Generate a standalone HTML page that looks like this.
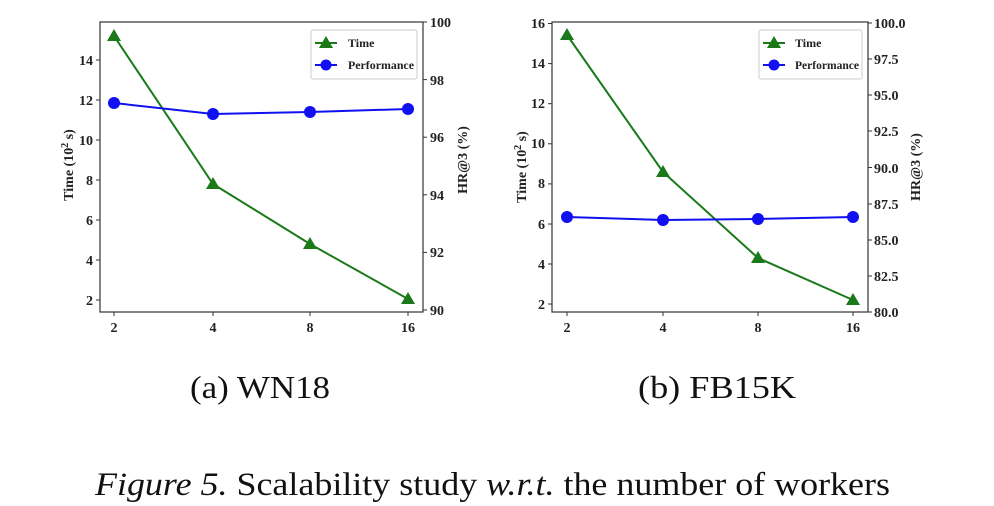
<!DOCTYPE html>
<html><head><meta charset="utf-8"><style>
body{margin:0;background:#fff;}
svg{display:block;font-family:"Liberation Serif",serif;}
.t{font-size:14px;font-weight:bold;fill:#222;}
.l{font-size:14px;font-weight:bold;fill:#222;}
.lg{font-size:12px;font-weight:bold;fill:#222;}
</style></head><body>
<svg width="994" height="506" viewBox="0 0 994 506" xmlns="http://www.w3.org/2000/svg">
<!-- Chart A -->
<g>
<rect x="100" y="22" width="323" height="290" fill="none" stroke="#333" stroke-width="1.2"/>
<g stroke="#333" stroke-width="1">
<line x1="114" y1="312" x2="114" y2="316"/><line x1="213" y1="312" x2="213" y2="316"/><line x1="310" y1="312" x2="310" y2="316"/><line x1="408" y1="312" x2="408" y2="316"/>
<line x1="96" y1="60" x2="100" y2="60"/><line x1="96" y1="100" x2="100" y2="100"/><line x1="96" y1="140" x2="100" y2="140"/><line x1="96" y1="180" x2="100" y2="180"/><line x1="96" y1="220" x2="100" y2="220"/><line x1="96" y1="260" x2="100" y2="260"/><line x1="96" y1="300" x2="100" y2="300"/>
<line x1="423" y1="22" x2="427" y2="22"/><line x1="423" y1="79.6" x2="427" y2="79.6"/><line x1="423" y1="137.2" x2="427" y2="137.2"/><line x1="423" y1="194.8" x2="427" y2="194.8"/><line x1="423" y1="252.4" x2="427" y2="252.4"/><line x1="423" y1="310" x2="427" y2="310"/>
</g>
<g class="t" text-anchor="middle"><text x="114" y="332">2</text><text x="213" y="332">4</text><text x="310" y="332">8</text><text x="408" y="332">16</text></g>
<g class="t" text-anchor="end"><text x="93" y="65">14</text><text x="93" y="105">12</text><text x="93" y="145">10</text><text x="93" y="185">8</text><text x="93" y="225">6</text><text x="93" y="265">4</text><text x="93" y="305">2</text></g>
<g class="t" text-anchor="start"><text x="430" y="27">100</text><text x="430" y="85">98</text><text x="430" y="142">96</text><text x="430" y="200">94</text><text x="430" y="257">92</text><text x="430" y="315">90</text></g>
<text class="l" transform="translate(73,165) rotate(-90)" text-anchor="middle">Time (10<tspan dy="-5" font-size="10">2</tspan><tspan dy="5"> s)</tspan></text>
<text class="l" transform="translate(467,160) rotate(-90)" text-anchor="middle">HR@3 (%)</text>
<polyline points="114,36 213,184 310,244 408,299" fill="none" stroke="#1a7a1a" stroke-width="2"/>
<g fill="#1a7a1a"><polygon points="114,29 107,41 121,41"/><polygon points="213,177 206,189 220,189"/><polygon points="310,237 303,249 317,249"/><polygon points="408,292 401,304 415,304"/></g>
<polyline points="114,103 213,114 310,112 408,109" fill="none" stroke="#1010f0" stroke-width="2"/>
<g fill="#1010f0"><circle cx="114" cy="103" r="6"/><circle cx="213" cy="114" r="6"/><circle cx="310" cy="112" r="6"/><circle cx="408" cy="109" r="6"/></g>
<rect x="311" y="30" width="106" height="49" fill="#fff" stroke="#ccc" rx="2"/>
<line x1="315" y1="43" x2="337" y2="43" stroke="#1a7a1a" stroke-width="2"/><polygon points="326,36 319,48 333,48" fill="#1a7a1a"/>
<text class="lg" x="348" y="47">Time</text>
<line x1="315" y1="65" x2="337" y2="65" stroke="#1010f0" stroke-width="2"/><circle cx="326" cy="65" r="5.5" fill="#1010f0"/>
<text class="lg" x="348" y="69" textLength="66" lengthAdjust="spacingAndGlyphs">Performance</text>
</g>
<!-- Chart B -->
<g>
<rect x="552" y="22" width="316" height="290" fill="none" stroke="#333" stroke-width="1.2"/>
<g stroke="#333" stroke-width="1">
<line x1="567" y1="312" x2="567" y2="316"/><line x1="663" y1="312" x2="663" y2="316"/><line x1="758" y1="312" x2="758" y2="316"/><line x1="853" y1="312" x2="853" y2="316"/>
<line x1="548" y1="23.5" x2="552" y2="23.5"/><line x1="548" y1="63.6" x2="552" y2="63.6"/><line x1="548" y1="103.7" x2="552" y2="103.7"/><line x1="548" y1="143.8" x2="552" y2="143.8"/><line x1="548" y1="183.9" x2="552" y2="183.9"/><line x1="548" y1="224" x2="552" y2="224"/><line x1="548" y1="264" x2="552" y2="264"/><line x1="548" y1="304" x2="552" y2="304"/>
<line x1="868" y1="23" x2="872" y2="23"/><line x1="868" y1="59" x2="872" y2="59"/><line x1="868" y1="95" x2="872" y2="95"/><line x1="868" y1="131" x2="872" y2="131"/><line x1="868" y1="167.5" x2="872" y2="167.5"/><line x1="868" y1="204" x2="872" y2="204"/><line x1="868" y1="240" x2="872" y2="240"/><line x1="868" y1="276" x2="872" y2="276"/><line x1="868" y1="312" x2="872" y2="312"/>
</g>
<g class="t" text-anchor="middle"><text x="567" y="332">2</text><text x="663" y="332">4</text><text x="758" y="332">8</text><text x="853" y="332">16</text></g>
<g class="t" text-anchor="end"><text x="545" y="28">16</text><text x="545" y="68">14</text><text x="545" y="108">12</text><text x="545" y="148">10</text><text x="545" y="188">8</text><text x="545" y="229">6</text><text x="545" y="269">4</text><text x="545" y="309">2</text></g>
<g class="t" text-anchor="start"><text x="874" y="28">100.0</text><text x="874" y="64">97.5</text><text x="874" y="100">95.0</text><text x="874" y="136">92.5</text><text x="874" y="173">90.0</text><text x="874" y="209">87.5</text><text x="874" y="245">85.0</text><text x="874" y="281">82.5</text><text x="874" y="317">80.0</text></g>
<text class="l" transform="translate(526,167) rotate(-90)" text-anchor="middle">Time (10<tspan dy="-5" font-size="10">2</tspan><tspan dy="5"> s)</tspan></text>
<text class="l" transform="translate(920,167) rotate(-90)" text-anchor="middle">HR@3 (%)</text>
<polyline points="567,35 663,172 758,258 853,300" fill="none" stroke="#1a7a1a" stroke-width="2"/>
<g fill="#1a7a1a"><polygon points="567,28 560,40 574,40"/><polygon points="663,165 656,177 670,177"/><polygon points="758,251 751,263 765,263"/><polygon points="853,293 846,305 860,305"/></g>
<polyline points="567,217 663,220 758,219 853,217" fill="none" stroke="#1010f0" stroke-width="2"/>
<g fill="#1010f0"><circle cx="567" cy="217" r="6"/><circle cx="663" cy="220" r="6"/><circle cx="758" cy="219" r="6"/><circle cx="853" cy="217" r="6"/></g>
<rect x="759" y="30" width="103" height="49" fill="#fff" stroke="#ccc" rx="2"/>
<line x1="763" y1="43" x2="785" y2="43" stroke="#1a7a1a" stroke-width="2"/><polygon points="774,36 767,48 781,48" fill="#1a7a1a"/>
<text class="lg" x="795" y="47">Time</text>
<line x1="763" y1="65" x2="785" y2="65" stroke="#1010f0" stroke-width="2"/><circle cx="774" cy="65" r="5.5" fill="#1010f0"/>
<text class="lg" x="795" y="69" textLength="64" lengthAdjust="spacingAndGlyphs">Performance</text>
</g>
<text x="190" y="398" font-size="32" textLength="140" lengthAdjust="spacingAndGlyphs" fill="#111">(a) WN18</text>
<text x="638" y="398" font-size="32" textLength="158" lengthAdjust="spacingAndGlyphs" fill="#111">(b) FB15K</text>
<text x="95" y="495" font-size="33" textLength="795" lengthAdjust="spacingAndGlyphs" fill="#111"><tspan font-style="italic">Figure 5.</tspan> Scalability study <tspan font-style="italic">w.r.t.</tspan> the number of workers</text>
</svg>
</body></html>
